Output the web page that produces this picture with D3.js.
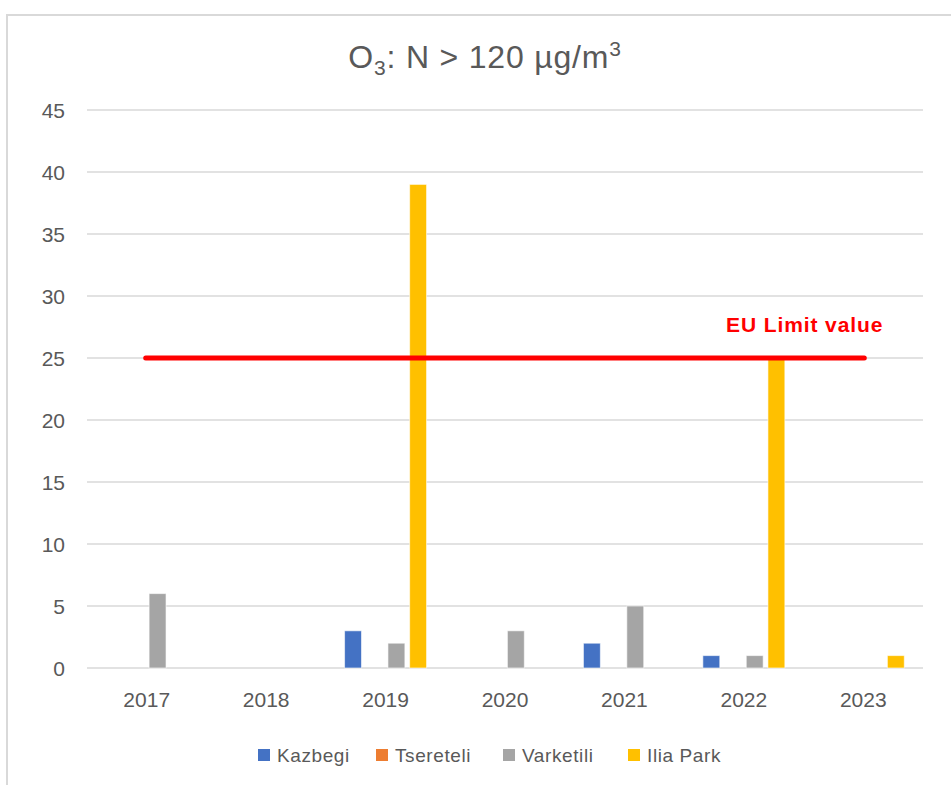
<!DOCTYPE html>
<html>
<head>
<meta charset="utf-8">
<script src="https://cdn.jsdelivr.net/npm/d3@7"></script>
<style>
  html, body { margin: 0; padding: 0; background: #fff; }
  svg { display: block; }
</style>
</head>
<body>
<svg id="chart" width="951" height="785"></svg>
<script>
const years = ["2017", "2018", "2019", "2020", "2021", "2022", "2023"];
const seriesNames = ["Kazbegi", "Tsereteli", "Varketili", "Ilia Park"];
const kazbegi   = [0, 0, 3, 0, 2, 1, 0];
const tsereteli = [0, 0, 0, 0, 0, 0, 0];
const varketili = [6, 0, 2, 3, 5, 1, 0];
const iliaPark  = [0, 0, 39, 0, 0, 25, 1];
const yTicks = [0, 5, 10, 15, 20, 25, 30, 35, 40, 45];
const euLimit = 25;
const colors = ["#4472C4", "#ED7D31", "#A5A5A5", "#FFC000"];

const seriesValues = [kazbegi, tsereteli, varketili, iliaPark];

const svg = d3.select("#chart");

// frame
svg.append("path")
  .attr("d", "M7,785 L7,15 L951,15")
  .attr("fill", "none")
  .attr("stroke", "#d9d9d9")
  .attr("stroke-width", 2);

const plotLeft = 87, plotRight = 923, plotTop = 110, plotBottom = 668;

const y = d3.scaleLinear().domain([0, 45]).range([plotBottom, plotTop]);
const x0 = d3.scaleBand().domain(years).range([plotLeft, plotRight]).padding(0);
const groupW = 82;
const x1 = d3.scaleBand().domain(seriesNames).range([0, groupW]).paddingInner(0.22).paddingOuter(0);
const groupOffset = (x0.bandwidth() - groupW) / 2;

// gridlines
svg.append("g").selectAll("line").data(yTicks).join("line")
  .attr("x1", plotLeft).attr("x2", plotRight)
  .attr("y1", d => y(d)).attr("y2", d => y(d))
  .attr("stroke", "#d9d9d9").attr("stroke-width", 1.5);

// y axis labels
const yAxis = d3.axisLeft(y).tickValues(yTicks).tickSize(0).tickPadding(0);
const yg = svg.append("g").attr("transform", `translate(65,0)`).call(yAxis);
yg.select(".domain").remove();
yg.selectAll("text")
  .attr("font-family", "Liberation Sans, Arial, sans-serif")
  .attr("font-size", 21)
  .attr("fill", "#595959")
  .attr("dy", "0.36em");

// x axis labels
const xAxis = d3.axisBottom(x0).tickSize(0).tickPadding(0);
const xg = svg.append("g").attr("transform", `translate(0,${plotBottom})`).call(xAxis);
xg.select(".domain").remove();
xg.selectAll("text")
  .attr("font-family", "Liberation Sans, Arial, sans-serif")
  .attr("font-size", 21)
  .attr("fill", "#595959")
  .attr("y", 39)
  .attr("dy", 0);

// bars
const barData = [];
years.forEach((yr, i) => {
  seriesNames.forEach((s, j) => {
    barData.push({ year: yr, series: s, value: seriesValues[j][i], color: colors[j] });
  });
});
svg.append("g").selectAll("rect").data(barData.filter(d => d.value > 0)).join("rect")
  .attr("x", d => x0(d.year) + groupOffset + x1(d.series))
  .attr("width", x1.bandwidth())
  .attr("y", d => y(d.value))
  .attr("height", d => y(0) - y(d.value))
  .attr("fill", d => d.color)
  .attr("stroke", "#ffffff")
  .attr("stroke-opacity", 0.6)
  .attr("stroke-width", 1);

// EU limit line
const cx = yr => x0(yr) + x0.bandwidth() / 2;
svg.append("line")
  .attr("x1", cx(years[0]) - 1)
  .attr("x2", cx(years[years.length - 1]) + 1)
  .attr("y1", y(euLimit)).attr("y2", y(euLimit))
  .attr("stroke", "#FF0000")
  .attr("stroke-width", 5)
  .attr("stroke-linecap", "round");

svg.append("text")
  .attr("x", 726).attr("y", y(euLimit) - 26)
  .attr("font-family", "Liberation Sans, Arial, sans-serif")
  .attr("font-weight", "bold")
  .attr("font-size", 21)
  .attr("letter-spacing", 0.9)
  .attr("fill", "#FF0000")
  .text("EU Limit value");

// title
const title = svg.append("text")
  .attr("x", 485).attr("y", 68)
  .attr("text-anchor", "middle")
  .attr("font-family", "Liberation Sans, Arial, sans-serif")
  .attr("font-size", 32)
  .attr("letter-spacing", 0.8)
  .attr("fill", "#595959");
title.append("tspan").text("O");
title.append("tspan").attr("font-size", 21).attr("dy", 7).text("3");
title.append("tspan").attr("dy", -7).text(": N > 120 µg/m");
title.append("tspan").attr("font-size", 21).attr("dy", -12).text("3");

// legend
const legendX = [258, 376, 503, 628];
const lg = svg.append("g");
seriesNames.forEach((s, j) => {
  lg.append("rect")
    .attr("x", legendX[j]).attr("y", 749)
    .attr("width", 12).attr("height", 12)
    .attr("fill", colors[j]);
  lg.append("text")
    .attr("x", legendX[j] + 19).attr("y", 762)
    .attr("font-family", "Liberation Sans, Arial, sans-serif")
    .attr("font-size", 19)
    .attr("letter-spacing", 0.6)
    .attr("fill", "#595959")
    .text(s);
});
</script>
</body>
</html>
